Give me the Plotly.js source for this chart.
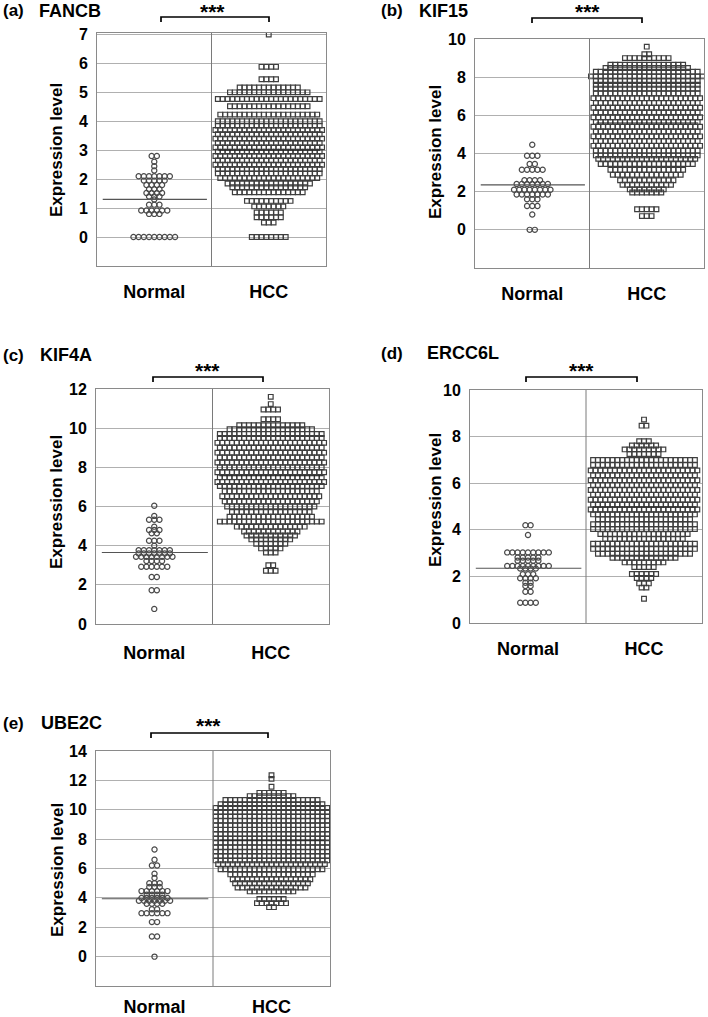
<!DOCTYPE html>
<html><head><meta charset="utf-8">
<script src="https://cdn.plot.ly/plotly-3.0.1.min.js"></script>
<style>html,body{margin:0;padding:0;background:#fff}#chart{width:708px;height:1017px}</style>
</head><body><div id="chart"></div>
<script>
const groups = ['Normal', 'HCC'];
const yTitle = 'Expression level';
const signif = '***';

// (a) FANCB
const fancbNormalLevels = [2.8, 2.6, 2.45, 2.3, 2.1, 1.95, 1.8, 1.65, 1.52, 1.4, 1.3, 1.12, 0.92, 0.8, 0];
const fancbNormalCounts = [2, 1, 1, 1, 7, 5, 4, 3, 4, 3, 1, 3, 6, 3, 9];
const fancbHccLevels = [7.0, 5.88, 5.45, 5.17, 5.0, 4.77, 4.52, 4.23, 4.0, 3.85, 3.7, 3.55, 3.4, 3.25, 3.1, 2.95, 2.8, 2.65, 2.5, 2.35, 2.2, 2.04, 1.85, 1.72, 1.55, 1.25, 1.06, 0.85, 0.68, 0.5, 0];
const fancbHccCounts = [1, 4, 4, 13, 17, 22, 17, 21, 22, 22, 23, 22, 23, 22, 23, 22, 23, 22, 23, 22, 22, 21, 18, 16, 15, 10, 7, 6, 6, 3, 8];
const fancbMedians = [1.3, 3.0];
const fancbTicks = [0, 1, 2, 3, 4, 5, 6, 7];

// (b) KIF15
const kif15NormalLevels = [4.46, 3.88, 3.45, 3.15, 2.6, 2.4, 2.1, 1.85, 1.6, 1.25, 0.8, 0];
const kif15NormalCounts = [1, 3, 2, 5, 4, 7, 8, 7, 3, 3, 1, 2];
const kif15HccLevels = [9.6, 9.2, 9.0, 8.65, 8.48, 8.28, 8.04, 7.8, 7.6, 7.4, 7.15, 6.9, 6.65, 6.4, 6.15, 5.9, 5.65, 5.4, 5.15, 4.9, 4.65, 4.4, 4.15, 3.9, 3.72, 3.45, 3.15, 2.88, 2.6, 2.36, 2.12, 1.96, 1.08, 0.72];
const kif15HccCounts = [1, 2, 10, 16, 18, 22, 24, 22, 22, 22, 22, 23, 22, 23, 22, 23, 22, 23, 22, 23, 22, 23, 22, 22, 21, 20, 16, 15, 12, 11, 8, 7, 5, 3];
const kif15Medians = [2.36, 5.6];
const kif15Ticks = [0, 2, 4, 6, 8, 10];

// (c) KIF4A
const kif4aNormalLevels = [6.04, 5.52, 5.32, 4.97, 4.8, 4.63, 4.25, 4.0, 3.77, 3.6, 3.43, 3.22, 2.92, 2.4, 1.72, 0.77];
const kif4aNormalCounts = [1, 1, 3, 1, 3, 2, 3, 1, 7, 7, 8, 4, 6, 2, 2, 1];
const kif4aHccLevels = [11.6, 11.23, 10.95, 10.46, 10.15, 9.95, 9.7, 9.5, 9.25, 9.0, 8.75, 8.5, 8.25, 8.0, 7.75, 7.5, 7.25, 7.05, 6.78, 6.52, 6.26, 6.0, 5.72, 5.48, 5.23, 4.97, 4.72, 4.52, 4.32, 4.1, 3.86, 3.65, 3.0, 2.72];
const kif4aHccCounts = [1, 1, 4, 4, 14, 18, 22, 22, 23, 22, 23, 22, 23, 22, 23, 22, 23, 22, 20, 21, 20, 19, 17, 18, 22, 15, 12, 11, 9, 7, 5, 3, 2, 3];
const kif4aMedians = [3.65, 7.57];
const kif4aTicks = [0, 2, 4, 6, 8, 10, 12];

// (d) ERCC6L
const ercc6lNormalLevels = [4.2, 3.78, 3.03, 2.81, 2.67, 2.45, 2.34, 2.09, 1.92, 1.73, 1.59, 1.34, 0.87];
const ercc6lNormalCounts = [2, 1, 9, 5, 5, 9, 4, 3, 4, 2, 2, 2, 4];
const ercc6lHccLevels = [8.73, 8.47, 7.8, 7.62, 7.45, 7.25, 7.0, 6.78, 6.55, 6.34, 6.13, 5.92, 5.71, 5.5, 5.29, 5.08, 4.87, 4.66, 4.45, 4.24, 4.03, 3.82, 3.6, 3.4, 3.18, 2.97, 2.8, 2.6, 2.4, 2.1, 1.93, 1.7, 1.52, 1.04];
const ercc6lHccCounts = [1, 2, 3, 6, 9, 7, 22, 22, 23, 22, 23, 22, 23, 22, 23, 22, 23, 22, 20, 22, 22, 19, 17, 22, 22, 20, 14, 9, 5, 6, 4, 3, 2, 1];
const ercc6lMedians = [2.35, 4.98];
const ercc6lTicks = [0, 2, 4, 6, 8, 10];

// (e) UBE2C
const ube2cNormalLevels = [7.29, 6.6, 6.2, 5.65, 5.35, 5.0, 4.74, 4.46, 4.21, 3.99, 3.8, 3.6, 3.23, 2.96, 2.35, 1.37, 0];
const ube2cNormalCounts = [1, 1, 2, 1, 1, 3, 3, 6, 4, 6, 7, 4, 2, 6, 2, 2, 1];
const ube2cHccLevels = [12.35, 12.1, 11.57, 11.15, 10.93, 10.66, 10.38, 10.12, 9.85, 9.55, 9.25, 8.95, 8.65, 8.35, 8.05, 7.75, 7.45, 7.15, 6.85, 6.55, 6.3, 5.95, 5.6, 5.27, 5.0, 4.7, 4.44, 3.92, 3.64, 3.37];
const ube2cHccCounts = [1, 1, 1, 6, 10, 20, 22, 24, 24, 24, 24, 24, 24, 24, 24, 24, 24, 24, 24, 24, 23, 22, 18, 17, 16, 15, 10, 6, 7, 2];
const ube2cMedians = [3.94, 7.93];
const ube2cTicks = [0, 2, 4, 6, 8, 10, 12, 14];

const W = 708, H = 1017;
const FONT = 'Liberation Sans, Arial, Helvetica, sans-serif';
const b = t => '<b>' + t + '</b>';

const panels = [
  {letter: '(a)', gene: 'FANCB', nl: fancbNormalLevels, nc: fancbNormalCounts, hl: fancbHccLevels, hc: fancbHccCounts, med: fancbMedians, ticks: fancbTicks,
   box: [97, 326, 33, 266], yr: [-1, 7.05], tl: [1, 11], gx: 37, br: [161, 269, 17], st: [212, 12], yt: [57, 150], xs: 9},
  {letter: '(b)', gene: 'KIF15', nl: kif15NormalLevels, nc: kif15NormalCounts, hl: kif15HccLevels, hc: kif15HccCounts, med: kif15Medians, ticks: kif15Ticks,
   box: [475, 704, 39, 268], yr: [-2, 10], tl: [379, 11], gx: 417, br: [532, 642, 18], st: [587, 12], yt: [435, 152], xs: 9},
  {letter: '(c)', gene: 'KIF4A', nl: kif4aNormalLevels, nc: kif4aNormalCounts, hl: kif4aHccLevels, hc: kif4aHccCounts, med: kif4aMedians, ticks: kif4aTicks,
   box: [96, 329, 389, 624], yr: [0, 12], tl: [1, 355], gx: 38, br: [153, 263, 377], st: [207, 370], yt: [57, 502], xs: 12},
  {letter: '(d)', gene: 'ERCC6L', nl: ercc6lNormalLevels, nc: ercc6lNormalCounts, hl: ercc6lHccLevels, hc: ercc6lHccCounts, med: ercc6lMedians, ticks: ercc6lTicks,
   box: [470, 702, 390, 623], yr: [0, 10], tl: [379, 353], gx: 425, br: [526, 637, 377], st: [581, 370], yt: [435, 500], xs: 9},
  {letter: '(e)', gene: 'UBE2C', nl: ube2cNormalLevels, nc: ube2cNormalCounts, hl: ube2cHccLevels, hc: ube2cHccCounts, med: ube2cMedians, ticks: ube2cTicks,
   box: [96, 330, 751, 986], yr: [-2, 14], tl: [1, 723], gx: 39, br: [151, 268, 733], st: [208, 725], yt: [57, 870], xs: 4}
];

function swarm(levels, counts, center, step) {
  const xs = [], ys = [];
  levels.forEach((v, k) => {
    const n = counts[k];
    for (let i = 0; i < n; i++) { xs.push(center + (i - (n - 1) / 2) * step); ys.push(v); }
  });
  return {xs, ys};
}

const data = [], shapes = [], annotations = [];
const layout = {width: W, height: H, margin: {l: 0, r: 0, t: 0, b: 0}, showlegend: false,
  paper_bgcolor: '#fff', plot_bgcolor: '#fff', font: {family: FONT, color: '#000'}};

panels.forEach((p, i) => {
  const s = i === 0 ? '' : String(i + 1);
  const [L, R, T, B] = p.box;
  const unit = 2 / (R - L);
  const n = swarm(p.nl, p.nc, 1, 5.2 * unit);
  const h = swarm(p.hl, p.hc, 2, 4.85 * unit);
  data.push({type: 'scatter', mode: 'markers', x: n.xs, y: n.ys, xaxis: 'x' + s, yaxis: 'y' + s, hoverinfo: 'skip',
    marker: {symbol: 'circle-open', size: 5.2, color: '#4a4a4a', line: {width: 1.2, color: '#4a4a4a'}}});
  data.push({type: 'scatter', mode: 'markers', x: h.xs, y: h.ys, xaxis: 'x' + s, yaxis: 'y' + s, hoverinfo: 'skip',
    marker: {symbol: 'square-open', size: 4.7, color: '#3e3e3e', line: {width: 1.2, color: '#3e3e3e'}}});
  layout['xaxis' + s] = {domain: [L / W, R / W], range: [0.5, 2.5], anchor: 'y' + s, showgrid: false, zeroline: false,
    showline: true, mirror: true, linecolor: '#8a8a8a', linewidth: 1, tickvals: [1, 2], ticktext: groups.map(b), ticks: '',
    ticklabelstandoff: p.xs, tickfont: {family: FONT, size: 18, color: '#000'}, fixedrange: true};
  layout['yaxis' + s] = {domain: [1 - B / H, 1 - T / H], range: p.yr, anchor: 'x' + s, showgrid: true, gridcolor: '#b0b0b0',
    gridwidth: 1, zeroline: false, showline: true, mirror: true, linecolor: '#8a8a8a', linewidth: 1, tickvals: p.ticks,
    ticktext: p.ticks.map(b), ticks: '', ticklabelstandoff: 5, tickfont: {family: FONT, size: 16, color: '#000'}, fixedrange: true};
  shapes.push({type: 'line', xref: 'x' + s, yref: 'y' + s + ' domain', x0: 1.5, x1: 1.5, y0: 0, y1: 1, line: {color: '#7a7a7a', width: 1}});
  shapes.push({type: 'line', xref: 'x' + s, yref: 'y' + s, x0: 0.55, x1: 1.46, y0: p.med[0], y1: p.med[0], line: {color: '#555', width: 1.2}});
  shapes.push({type: 'line', xref: 'x' + s, yref: 'y' + s, x0: 1.56, x1: 2.45, y0: p.med[1], y1: p.med[1], line: {color: '#222', width: 1}});
  const [bx1, bx2, by] = p.br;
  shapes.push({type: 'path', xref: 'paper', yref: 'paper',
    path: `M ${bx1 / W} ${1 - (by + 5) / H} L ${bx1 / W} ${1 - by / H} L ${bx2 / W} ${1 - by / H} L ${bx2 / W} ${1 - (by + 5) / H}`,
    line: {color: '#000', width: 1.7}});
  annotations.push({xref: 'paper', yref: 'paper', x: p.tl[0] / W, y: 1 - p.tl[1] / H, xanchor: 'left', yanchor: 'middle', showarrow: false,
    text: b(p.letter), font: {family: FONT, size: 17, color: '#000'}});
  annotations.push({xref: 'paper', yref: 'paper', x: p.gx / W, y: 1 - p.tl[1] / H, xanchor: 'left', yanchor: 'middle', showarrow: false,
    text: b(p.gene), font: {family: FONT, size: 18, color: '#000'}});
  annotations.push({xref: 'paper', yref: 'paper', x: p.st[0] / W, y: 1 - p.st[1] / H, xanchor: 'center', yanchor: 'middle', showarrow: false,
    text: b(signif), font: {family: FONT, size: 21, color: '#000'}});
  annotations.push({xref: 'paper', yref: 'paper', x: p.yt[0] / W, y: 1 - p.yt[1] / H, xanchor: 'center', yanchor: 'middle', showarrow: false,
    textangle: -90, text: b(yTitle), font: {family: FONT, size: 17, color: '#000'}});
});
layout.shapes = shapes;
layout.annotations = annotations;
Plotly.newPlot('chart', data, layout, {staticPlot: true, displayModeBar: false});
</script></body></html>
